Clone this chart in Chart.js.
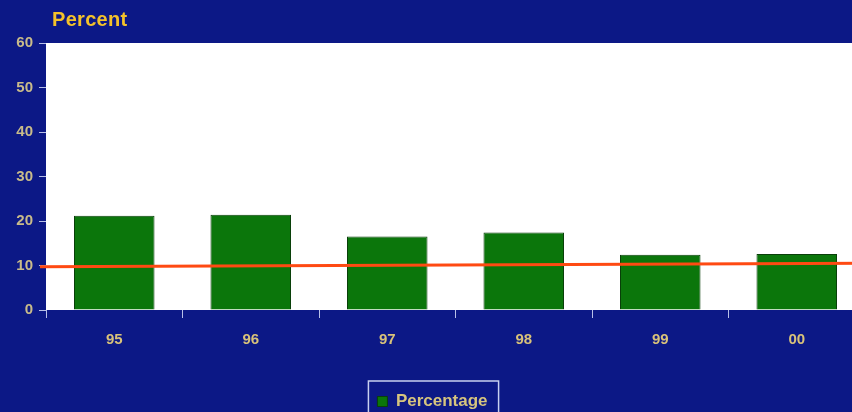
<!DOCTYPE html>
<html>
<head>
<meta charset="utf-8">
<script src="https://cdn.jsdelivr.net/npm/chart.js@4"></script>
<style>
  html, body { margin: 0; padding: 0; background: #0c1886; overflow: hidden; }
  #wrap { position: relative; width: 852px; height: 412px; overflow: hidden; }
  #box { position: absolute; left: 0; top: 0; width: 870px; height: 420px; }
  #ttl { position: absolute; left: 52px; top: 8px; font: bold 20px "Liberation Sans", Arial, sans-serif; color: #f4c22a; letter-spacing: 0.3px; }
</style>
</head>
<body>
<div id="wrap">
  <div id="box"><canvas id="chart"></canvas></div>
  <div id="ttl">Percent</div>
</div>
<script>
// values
let years = ['95', '96', '97', '98', '99', '00'];
let percentage = [21.2, 21.4, 16.5, 17.4, 12.4, 12.6];
let refLine = [9.7, 10.5];   // red line, left end / right end
let yTicks = [0, 10, 20, 30, 40, 50, 60];

let tan = '#c9bb8a';

// white plot background, red reference line, box round the legend
let extras = {
    id: 'extras',
    beforeDraw(chart){
        let a = chart.chartArea;
        let c = chart.ctx;
        c.save();
        c.fillStyle = '#ffffff';
        c.fillRect(a.left, a.top, a.right - a.left, a.bottom - a.top);
        c.restore();
    },
    afterDatasetsDraw(chart){
        let a = chart.chartArea;
        let y = chart.scales.y;
        let c = chart.ctx;
        c.save();
        c.strokeStyle = '#ff4a12';
        c.lineWidth = 3;
        c.beginPath();
        c.moveTo(a.left - 6, y.getPixelForValue(refLine[0]));
        c.lineTo(a.right, y.getPixelForValue(refLine[1]));
        c.stroke();
        c.restore();
    },
    afterDraw(chart){
        let boxes = chart.legend.legendHitBoxes;
        if(!boxes || !boxes.length) return;
        let b = boxes[0];
        let c = chart.ctx;
        c.save();
        c.strokeStyle = '#c8d0f0';
        c.lineWidth = 1.5;
        c.strokeRect(b.left - 9, b.top - 12, b.width + 20, b.height + 40);
        c.restore();
    }
};

let chart = new Chart(document.getElementById('chart'), {
    type: 'bar',
    data: {
        labels: years,
        datasets: [{
            label: 'Percentage',
            data: percentage,
            backgroundColor: '#0b760b',
            borderColor: '#0a3f0a',
            borderWidth: 1,
            barPercentage: 0.59,
            categoryPercentage: 1.0
        }]
    },
    options: {
        responsive: true,
        maintainAspectRatio: false,
        animation: false,
        layout: { padding: { top: 43, right: 5, left: 0, bottom: 0 } },
        plugins: {
            title: { display: false },
            tooltip: { enabled: false },
            legend: {
                position: 'bottom',
                labels: {
                    color: '#d6c47e',
                    font: { family: 'Liberation Sans', size: 17, weight: 'bold' },
                    boxWidth: 10,
                    boxHeight: 10,
                    padding: 10
                }
            }
        },
        scales: {
            x: {
                afterFit(scale){ scale.height = 73; },
                grid: { drawOnChartArea: false, color: '#b8c0e8', tickLength: 8, offset: true },
                border: { display: false },
                ticks: { color: '#d9c27a', font: { family: 'Liberation Sans', size: 15, weight: 'bold' }, padding: 13 }
            },
            y: {
                min: 0,
                max: 60,
                afterFit(scale){ scale.width = 46; },
                afterBuildTicks(scale){ scale.ticks = yTicks.map(v => ({value: v})); },
                grid: { drawOnChartArea: false, color: '#b8c0e8', tickLength: 7 },
                border: { display: false },
                ticks: { color: tan, font: { family: 'Liberation Sans', size: 15, weight: 'bold' }, padding: 6 }
            }
        }
    },
    plugins: [extras]
});
</script>
</body>
</html>
